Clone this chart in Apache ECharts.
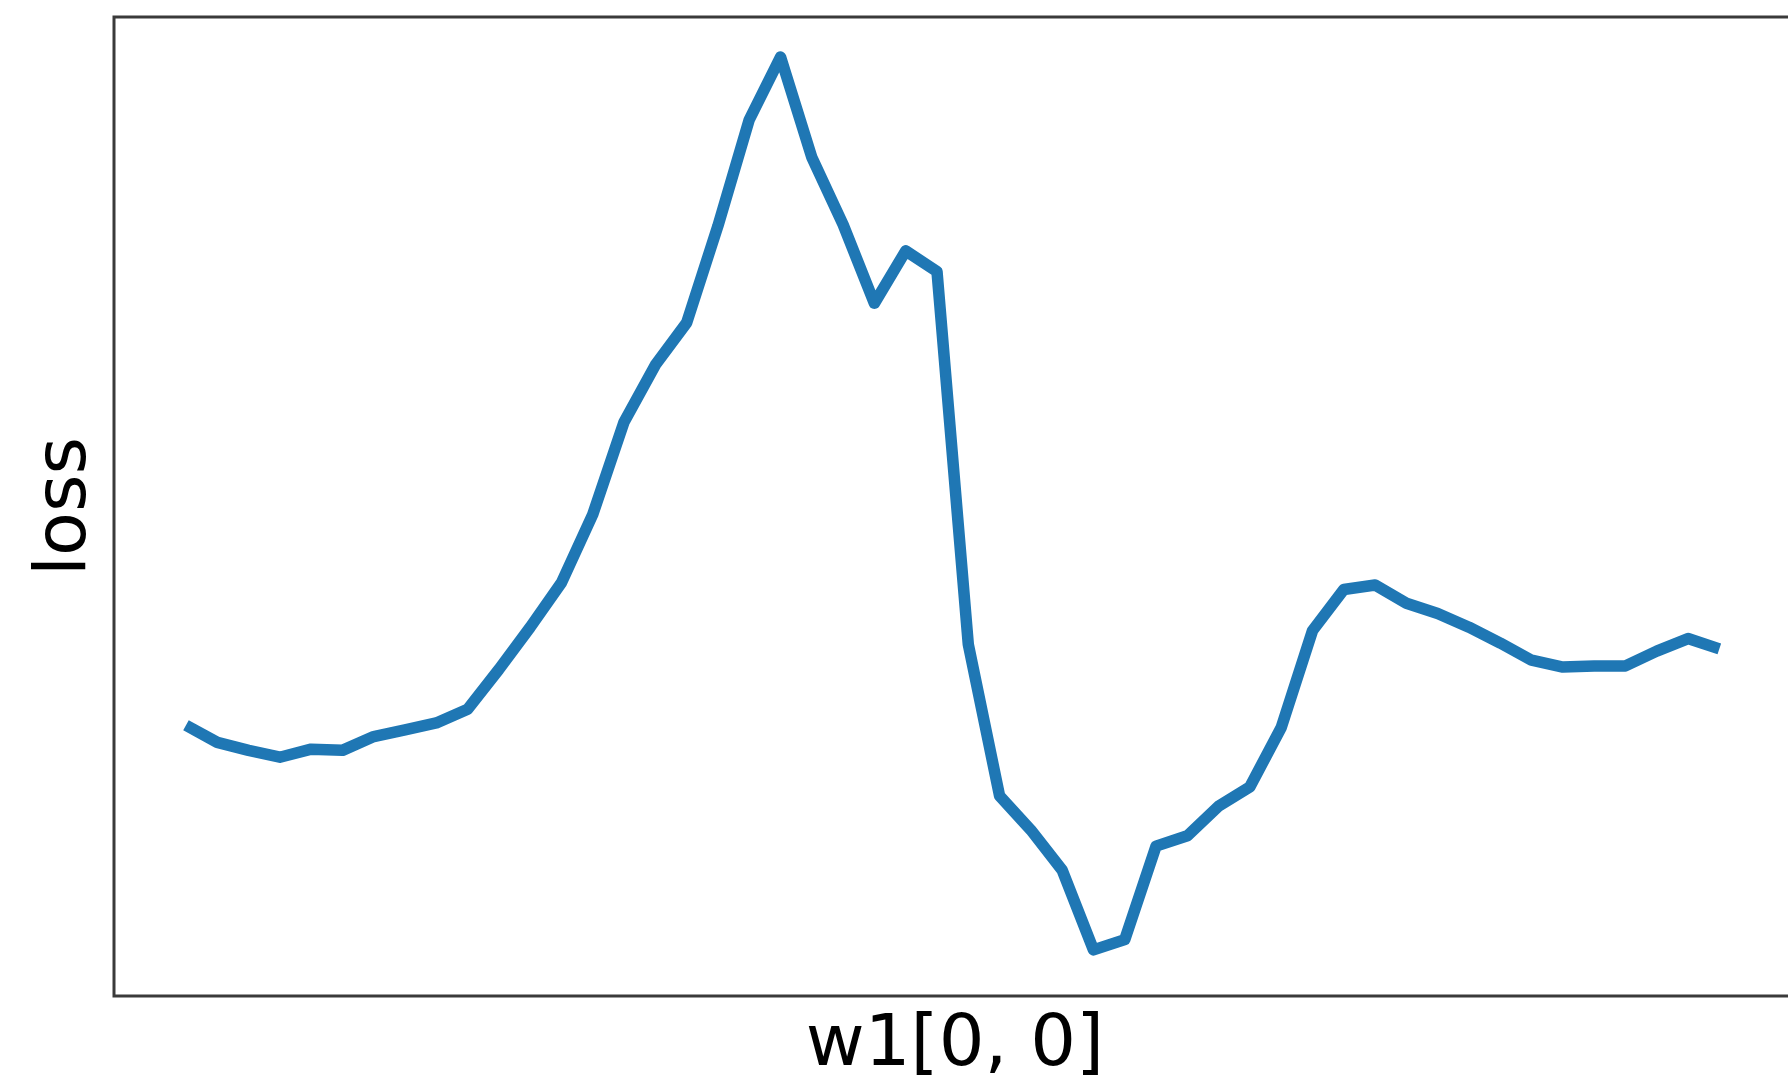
<!DOCTYPE html>
<html>
<head>
<meta charset="utf-8">
<script src="https://cdn.jsdelivr.net/npm/echarts@6/dist/echarts.min.js"></script>
<style>
html,body{margin:0;padding:0;background:#fff;}
#chart{width:1788px;height:1080px;}
</style>
</head>
<body>
<div id="chart"></div>
<script>
// x positions (sample index along w1[0, 0])
var xValues = [0,1,2,3,4,5,6,7,8,9,10,11,12,13,14,15,16,17,18,19,20,21,22,23,24,25,26,27,28,29,30,31,32,33,34,35,36,37,38,39,40,41,42,43,44,45,46,47,48,49];
// loss values (arbitrary units)
var lossValues = [27.66,25.91,25.09,24.39,25.21,25.09,26.50,27.19,27.89,29.29,
                  33.36,37.67,42.22,49.20,58.64,64.46,68.77,78.67,89.51,95.91,
                  85.66,78.79,70.76,76.11,74.01,35.92,20.44,16.95,12.86,4.71,
                  5.76,15.31,16.36,19.39,21.37,27.43,37.32,41.52,41.98,40.12,
                  39.07,37.67,36.05,34.30,33.60,33.72,33.72,35.23,36.51,35.46];
var xName = 'w1[0, 0]';
var yName = 'loss';

var points = xValues.map(function(x, i){ return [x, lossValues[i]]; });

var chart = echarts.init(document.getElementById('chart'), null, {renderer:'canvas'});
chart.setOption({
  animation: false,
  backgroundColor: '#ffffff',
  textStyle: {fontFamily: 'DejaVu Sans'},
  grid: {
    left: 114, top: 17, width: 1682, height: 979,
    outerBoundsMode: 'none', containLabel: false,
    show: true, borderColor: '#3a3a3a', borderWidth: 3, backgroundColor: 'transparent'
  },
  xAxis: {
    type: 'value', min: -2.3, max: 51.45,
    name: xName, nameLocation: 'middle', nameGap: 14,
    nameTextStyle: {fontSize: 72, color: '#000', fontFamily: 'DejaVu Sans'},
    axisLine: {show: false}, axisTick: {show: false}, axisLabel: {show: false}, splitLine: {show: false}
  },
  yAxis: {
    type: 'value', min: 0, max: 100,
    name: yName, nameLocation: 'middle', nameGap: 12,
    nameTextStyle: {fontSize: 72, color: '#000', fontFamily: 'DejaVu Sans'},
    axisLine: {show: false}, axisTick: {show: false}, axisLabel: {show: false}, splitLine: {show: false}
  },
  series: [{
    type: 'line',
    data: points,
    showSymbol: false,
    symbol: 'none',
    clip: false,
    lineStyle: {color: '#1f77b4', width: 11.5, cap: 'butt', join: 'round'},
    silent: true
  }]
});
</script>
</body>
</html>
